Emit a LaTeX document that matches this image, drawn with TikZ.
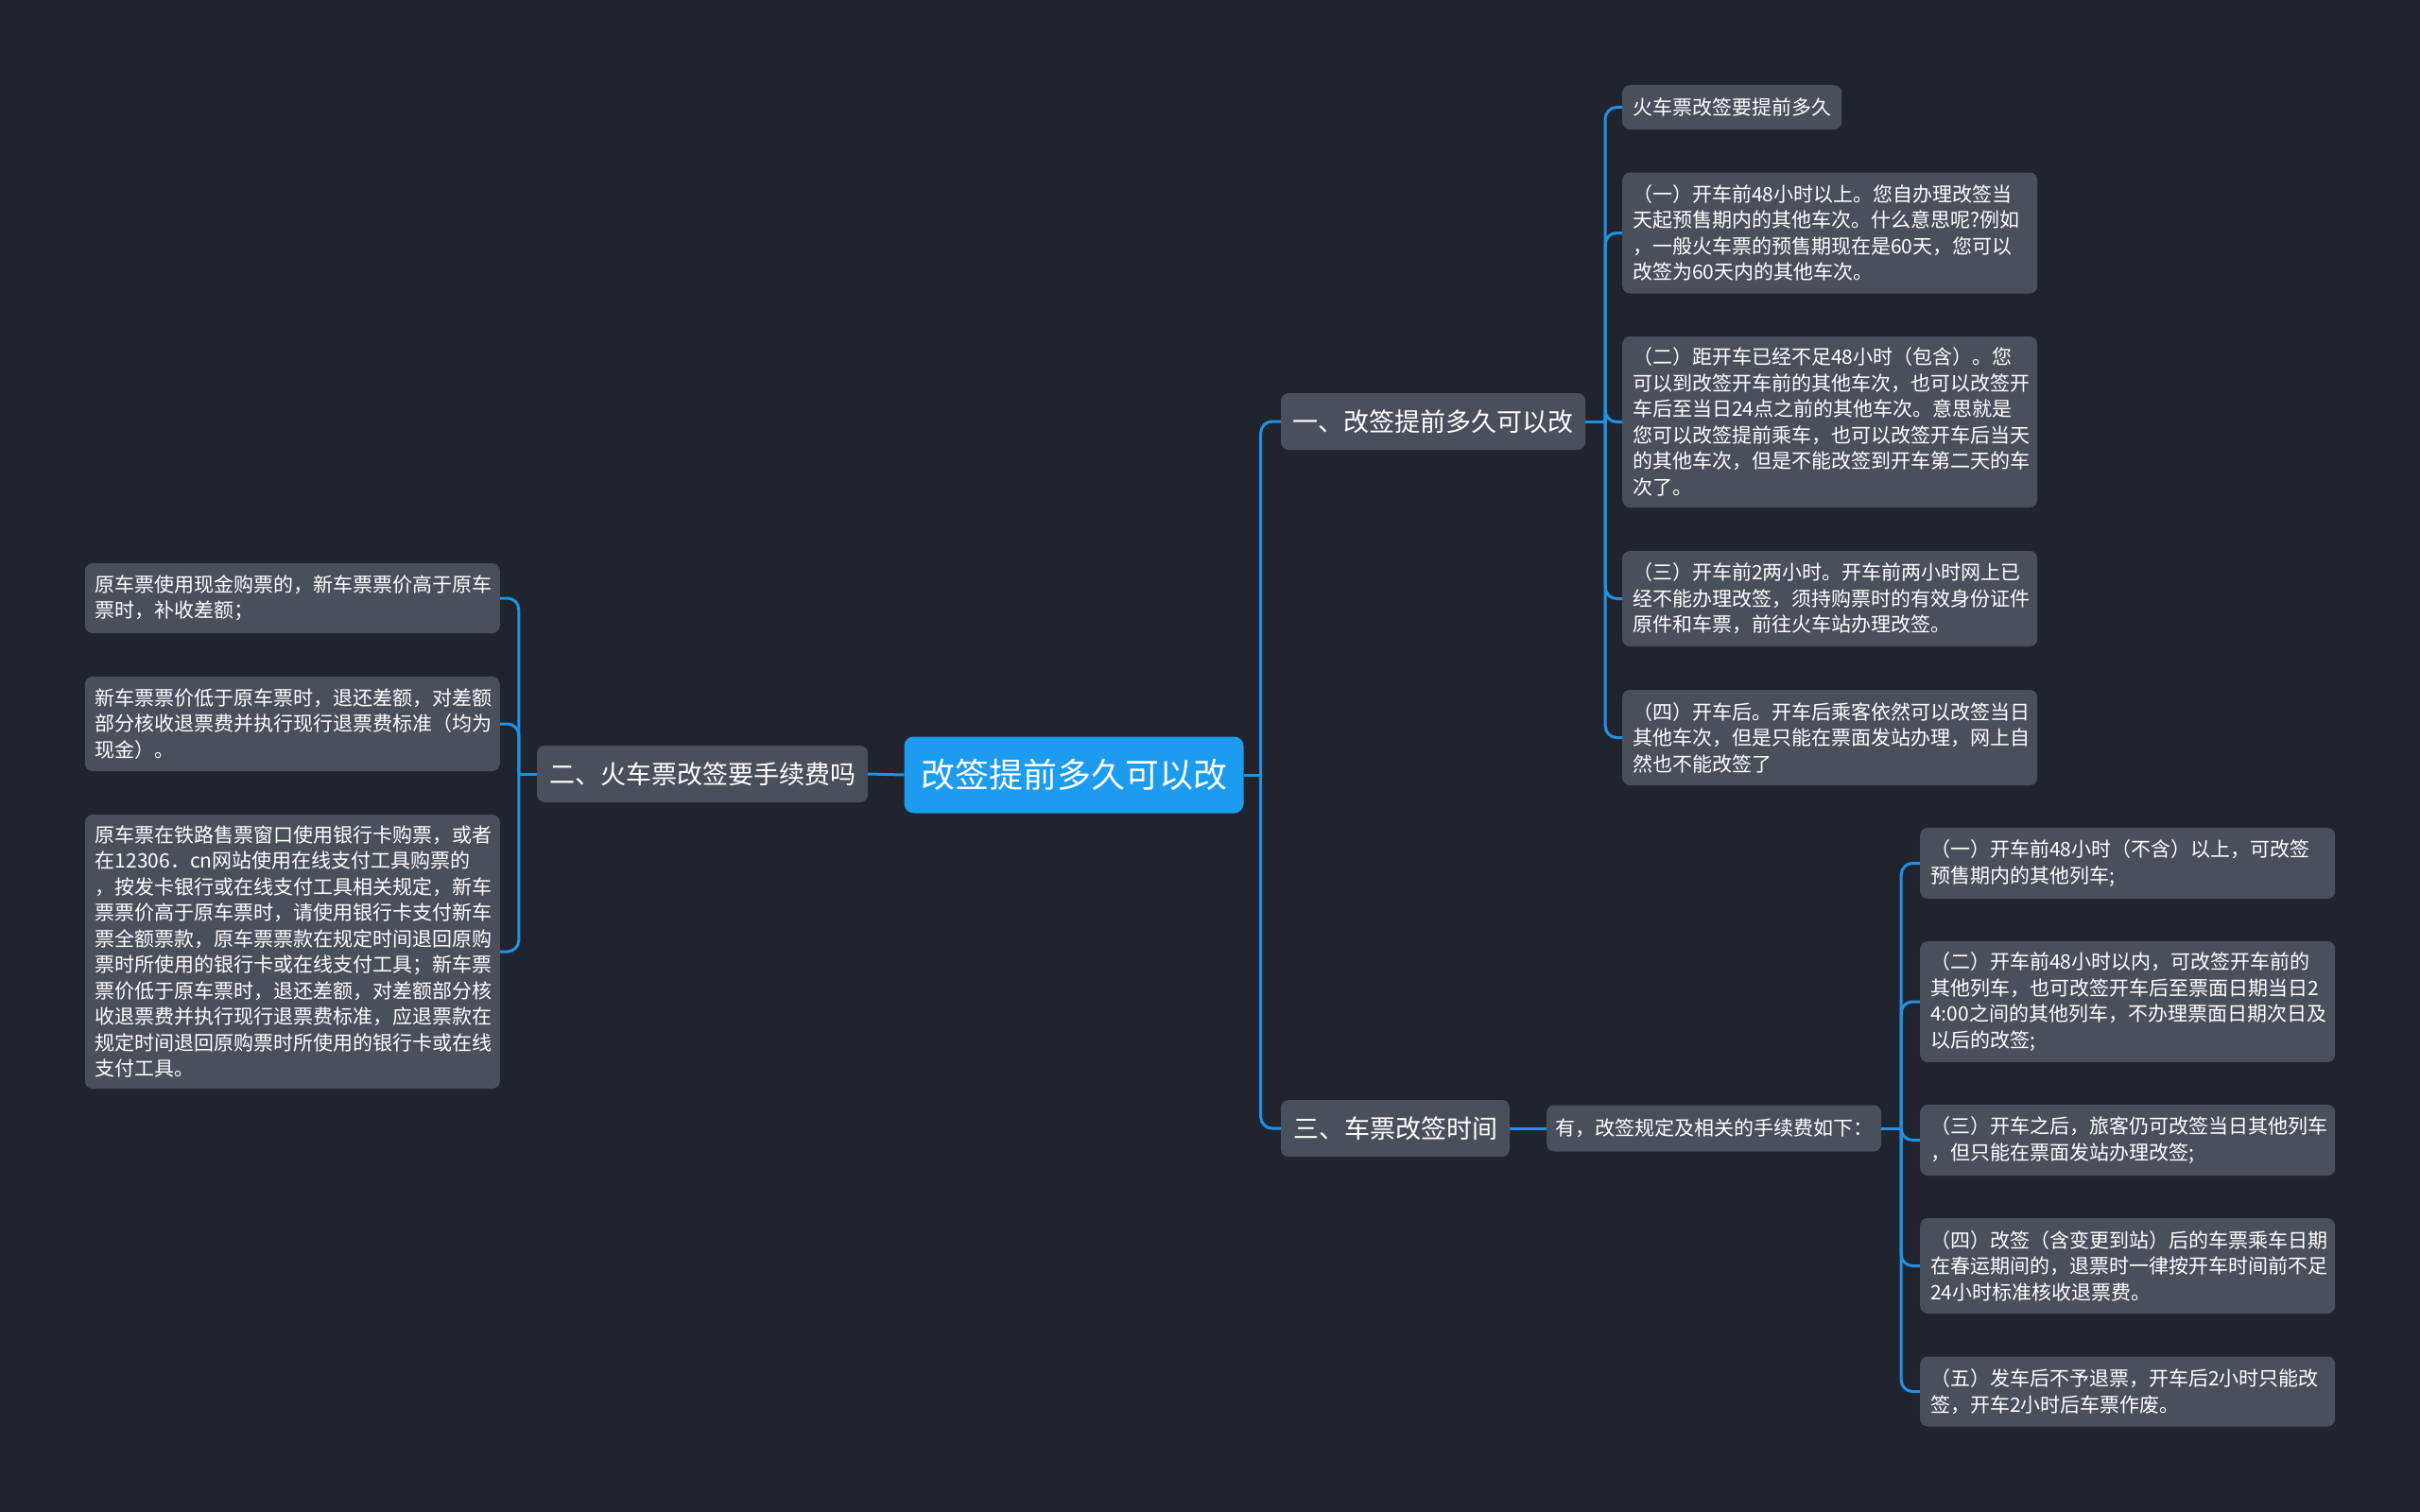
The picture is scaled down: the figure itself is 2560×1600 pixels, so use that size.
\documentclass[tikz,border=0pt]{standalone}
\usepackage{fontspec}
\newfontfamily\cjk{Noto Sans CJK SC}
\definecolor{bgc}{HTML}{20242F}
\definecolor{nodefill}{HTML}{4A4F5C}
\definecolor{rootfill}{HTML}{1C9BEF}
\definecolor{linec}{HTML}{2192E3}
\tikzset{
  boxbase/.style={fill=nodefill, text=white, rounded corners=8pt, inner sep=0pt},
  leaf/.style={boxbase, align=left, text width=417pt, inner xsep=11pt,
    font=\cjk\fontsize{21pt}{27.5pt}\selectfont},
  branch/.style={boxbase, font=\cjk\fontsize{27pt}{32pt}\selectfont, minimum height=60pt},
  rootbox/.style={boxbase, fill=rootfill, rounded corners=10pt, font=\cjk\fontsize{36pt}{40pt}\selectfont,
    minimum width=359pt, minimum height=81pt},
  conn/.style={draw=linec, line width=3pt, rounded corners=12pt}
}
\begin{document}
\begin{tikzpicture}[x=1pt,y=-1pt]
\fill[bgc] (0,0) rectangle (2560,1600);
\useasboundingbox (0,0) rectangle (2560,1600);

% root and branches
\node[rootbox] (root) at (1136,820) {改签提前多久可以改};
\node[branch, minimum width=322pt] (b1) at (1516,446) {一、改签提前多久可以改};
\node[branch, minimum width=350pt] (b2) at (743,819) {二、火车票改签要手续费吗};
\node[branch, minimum width=242pt] (b3) at (1476,1194) {三、车票改签时间};
\node[boxbase, font=\cjk\fontsize{21pt}{25pt}\selectfont, minimum width=354pt, minimum height=49pt] (s3) at (1813,1194) {有，改签规定及相关的手续费如下：};

% leaves of branch 1
\node[boxbase, anchor=west, inner xsep=11pt, minimum height=47pt, font=\cjk\fontsize{21pt}{27.5pt}\selectfont] (r0) at (1716,113.5) {火车票改签要提前多久};
\node[leaf, anchor=west, minimum height=128pt] (r1) at (1716,246.5) {（一）开车前48小时以上。您自办理改签当\\天起预售期内的其他车次。什么意思呢?例如\\，一般火车票的预售期现在是60天，您可以\\改签为60天内的其他车次。};
\node[leaf, anchor=west, minimum height=181pt] (r2) at (1716,446.5) {（二）距开车已经不足48小时（包含）。您\\可以到改签开车前的其他车次，也可以改签开\\车后至当日24点之前的其他车次。意思就是\\您可以改签提前乘车，也可以改签开车后当天\\的其他车次，但是不能改签到开车第二天的车\\次了。};
\node[leaf, anchor=west, minimum height=101pt] (r3) at (1716,633.5) {（三）开车前2两小时。开车前两小时网上已\\经不能办理改签，须持购票时的有效身份证件\\原件和车票，前往火车站办理改签。};
\node[leaf, anchor=west, minimum height=101pt] (r4) at (1716,780.5) {（四）开车后。开车后乘客依然可以改签当日\\其他车次，但是只能在票面发站办理，网上自\\然也不能改签了};

% leaves of branch 2
\node[leaf, anchor=east, minimum height=74pt] (l1) at (529,633) {原车票使用现金购票的，新车票票价高于原车\\票时，补收差额；};
\node[leaf, anchor=east, minimum height=100pt] (l2) at (529,766) {新车票票价低于原车票时，退还差额，对差额\\部分核收退票费并执行现行退票费标准（均为\\现金）。};
\node[leaf, anchor=east, minimum height=290pt] (l3) at (529,1007) {原车票在铁路售票窗口使用银行卡购票，或者\\在12306．cn网站使用在线支付工具购票的\\，按发卡银行或在线支付工具相关规定，新车\\票票价高于原车票时，请使用银行卡支付新车\\票全额票款，原车票票款在规定时间退回原购\\票时所使用的银行卡或在线支付工具；新车票\\票价低于原车票时，退还差额，对差额部分核\\收退票费并执行现行退票费标准，应退票款在\\规定时间退回原购票时所使用的银行卡或在线\\支付工具。};

% leaves of branch 3
\node[leaf, anchor=west, minimum height=75pt] (t1) at (2031,913.5) {（一）开车前48小时（不含）以上，可改签\\预售期内的其他列车;};
\node[leaf, anchor=west, minimum height=128pt] (t2) at (2031,1060) {（二）开车前48小时以内，可改签开车前的\\其他列车，也可改签开车后至票面日期当日2\\4:00之间的其他列车，不办理票面日期次日及\\以后的改签;};
\node[leaf, anchor=west, minimum height=75pt] (t3) at (2031,1206.5) {（三）开车之后，旅客仍可改签当日其他列车\\，但只能在票面发站办理改签;};
\node[leaf, anchor=west, minimum height=101pt] (t4) at (2031,1339.5) {（四）改签（含变更到站）后的车票乘车日期\\在春运期间的，退票时一律按开车时间前不足\\24小时标准核收退票费。};
\node[leaf, anchor=west, minimum height=74pt] (t5) at (2031,1472.5) {（五）发车后不予退票，开车后2小时只能改\\签，开车2小时后车票作废。};

% junction points
\path (root.east) ++(18,0) coordinate (jr);
\path (b1.east) ++(21,0) coordinate (j1);
\path (b2.west) ++(-19,0) coordinate (j2);
\path (s3.east) ++(21,0) coordinate (j3);

% connectors
\draw[conn] (root.east) -- (jr);
\draw[conn] (jr) |- (b1.west);
\draw[conn] (jr) |- (b3.west);
\draw[conn] (root.west) -- (b2.east);
\draw[conn] (b3.east) -- (s3.west);
\draw[conn] (b1.east) -- (j1);
\foreach \n in {r0,r1,r2,r3,r4} \draw[conn] (j1) |- (\n.west);
\draw[conn] (b2.west) -- (j2);
\foreach \n in {l1,l2,l3} \draw[conn] (j2) |- (\n.east);
\draw[conn] (s3.east) -- (j3);
\foreach \n in {t1,t2,t3,t4,t5} \draw[conn] (j3) |- (\n.west);
\end{tikzpicture}
\end{document}
